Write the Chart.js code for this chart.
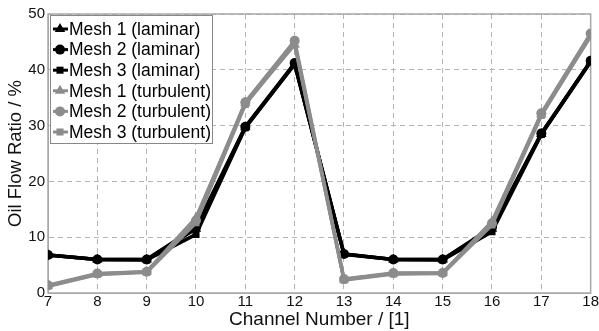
<!DOCTYPE html>
<html>
<head>
<meta charset="UTF-8">
<script src="https://cdn.jsdelivr.net/npm/chart.js"></script>
<style>
  html, body { margin: 0; padding: 0; background: #fff; }
  #wrap { width: 599px; height: 331px; }
</style>
</head>
<body>
<div id="wrap"><canvas id="c" width="599" height="331"></canvas></div>
<script>
// channel numbers on the x axis
const channels = [7, 8, 9, 10, 11, 12, 13, 14, 15, 16, 17, 18];

// oil flow ratio in %
const mesh1Laminar   = [6.8, 6.0, 6.0, 11.5, 29.7, 41.0, 7.0, 6.0, 6.0, 11.5, 28.5, 41.5];
const mesh2Laminar   = [6.8, 6.0, 6.0, 11.8, 29.8, 41.2, 7.0, 6.0, 6.0, 11.8, 28.6, 41.6];
const mesh3Laminar   = [6.8, 6.0, 5.9, 10.5, 29.6, 41.0, 6.9, 6.0, 5.9, 11.0, 28.4, 41.4];
const mesh1Turbulent = [1.3, 3.4, 3.8, 13.5, 34.0, 44.5, 2.4, 3.5, 3.6, 12.8, 32.0, 46.0];
const mesh2Turbulent = [1.4, 3.5, 3.8, 13.0, 34.2, 45.2, 2.5, 3.6, 3.6, 12.5, 32.2, 46.5];
const mesh3Turbulent = [1.2, 3.3, 3.7, 12.6, 33.8, 44.8, 2.3, 3.4, 3.5, 12.2, 31.8, 46.2];

const seriesLabels = ['Mesh 1 (laminar)', 'Mesh 2 (laminar)', 'Mesh 3 (laminar)',
                      'Mesh 1 (turbulent)', 'Mesh 2 (turbulent)', 'Mesh 3 (turbulent)'];
const yTicks = [0, 10, 20, 30, 40, 50];

const BLACK = '#000000';
const GREY = '#8c8c8c';
const FONT = 'Arial, "Liberation Sans", sans-serif';

function pts(vals) {
  return vals.map((v, i) => ({ x: channels[i], y: v }));
}

function ds(label, vals, color, style, order) {
  return {
    label: label,
    data: pts(vals),
    borderColor: color,
    backgroundColor: color,
    borderWidth: 3.5,
    pointStyle: style,
    pointRadius: style === 'triangle' ? 6 : 5,
    pointBorderWidth: 0,
    order: order,
    tension: 0
  };
}

const datasets = [
  ds(seriesLabels[0], mesh1Laminar, BLACK, 'triangle', 2),
  ds(seriesLabels[1], mesh2Laminar, BLACK, 'circle', 2),
  ds(seriesLabels[2], mesh3Laminar, BLACK, 'rect', 2),
  ds(seriesLabels[3], mesh1Turbulent, GREY, 'triangle', 1),
  ds(seriesLabels[4], mesh2Turbulent, GREY, 'circle', 1),
  ds(seriesLabels[5], mesh3Turbulent, GREY, 'rect', 1)
];

// legend box inside the plot: line sample + marker + text
const boxLegend = {
  id: 'boxLegend',
  afterDraw(chart) {
    const ctx = chart.ctx;
    const area = chart.chartArea;
    const x0 = area.left + 2, y0 = area.top + 1;
    const w = 162, rowH = 20.6, h = 128;
    ctx.save();
    ctx.fillStyle = '#fff';
    ctx.fillRect(x0, y0, w, h);
    ctx.strokeStyle = '#888';
    ctx.lineWidth = 1;
    ctx.strokeRect(x0 + 0.5, y0 + 0.5, w, h);
    ctx.font = '17.5px ' + FONT;
    ctx.textBaseline = 'middle';
    chart.data.datasets.forEach((d, i) => {
      const cy = y0 + 14 + i * rowH;
      ctx.strokeStyle = d.borderColor;
      ctx.fillStyle = d.borderColor;
      ctx.lineWidth = 3;
      ctx.beginPath();
      ctx.moveTo(x0 + 3, cy);
      ctx.lineTo(x0 + 18, cy);
      ctx.stroke();
      Chart.helpers.drawPoint(ctx, { pointStyle: d.pointStyle, radius: d.pointRadius, rotation: 0, borderWidth: 0 }, x0 + 10, cy);
      ctx.fillStyle = BLACK;
      ctx.fillText(d.label, x0 + 19, cy + 1);
    });
    ctx.restore();
  }
};

new Chart(document.getElementById('c'), {
  type: 'line',
  data: { datasets: datasets },
  options: {
    responsive: false,
    animation: false,
    layout: { padding: { top: 14, right: 6, left: 0, bottom: 0 } },
    plugins: {
      legend: { display: false },
      tooltip: { enabled: false }
    },
    scales: {
      x: {
        type: 'linear',
        min: 7,
        max: 18,
        afterFit(s) { s.height = 38; },
        ticks: { stepSize: 1, color: '#111', font: { family: FONT, size: 15 }, padding: 0, maxRotation: 0 },
        grid: { color: '#b5b5b5', lineWidth: 1, drawTicks: false },
        border: { color: '#a8a8a8', dash: [5, 4], display: true },
        title: { display: true, text: 'Channel Number / [1]', color: '#111', font: { family: FONT, size: 19 }, padding: { top: -3, bottom: 0 } }
      },
      y: {
        min: 0,
        max: 50,
        afterFit(s) { s.width = 48; },
        afterBuildTicks(s) { s.ticks = yTicks.map(v => ({ value: v })); },
        ticks: { color: '#111', font: { family: FONT, size: 15 }, padding: 3 },
        grid: { color: '#b5b5b5', lineWidth: 1, drawTicks: false },
        border: { color: '#a8a8a8', dash: [5, 4] },
        title: { display: true, text: 'Oil Flow Ratio / %', color: '#111', font: { family: FONT, size: 18.5 }, padding: { top: 5, bottom: 0 } }
      }
    }
  },
  plugins: [{
    id: 'frame',
    beforeDatasetsDraw(chart) {
      const a = chart.chartArea, ctx = chart.ctx;
      ctx.save();
      ctx.strokeStyle = '#a8a8a8';
      ctx.lineWidth = 1.5;
      ctx.setLineDash([]);
      ctx.strokeRect(a.left, a.top, a.right - a.left, a.bottom - a.top);
      ctx.restore();
    }
  }, boxLegend]
});
</script>
</body>
</html>
